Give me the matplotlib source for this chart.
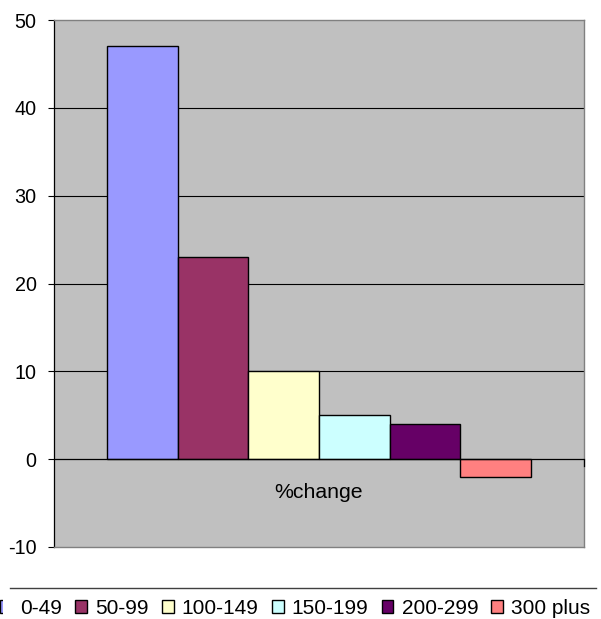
import matplotlib
matplotlib.use('Agg')
import matplotlib.pyplot as plt
import matplotlib.patches as mpatches
import matplotlib.transforms as mtransforms
from matplotlib.lines import Line2D
import numpy as np

# bar chart of %change by group
labels = ['0-49', '50-99', '100-149', '150-199', '200-299', '300 plus']
values = [47, 23, 10, 5, 4, -2]
colors = ['#9999FF', '#993366', '#FFFFCC', '#CCFFFF', '#660066', '#FF8080']
category = '%change'
yticks = [-10, 0, 10, 20, 30, 40, 50]

plt.rcParams['font.family'] = ['Liberation Sans', 'DejaVu Sans']

fig = plt.figure(figsize=(6.01, 6.19), dpi=100)
ax = fig.add_axes([54/601, 1-547/619, 530/601, 527/619])
ax.set_facecolor('#C0C0C0')

x = np.arange(len(values))
ax.bar(x, values, width=1.0, color=colors, edgecolor='black', linewidth=1.0, zorder=3)

ax.set_xlim(-1.25, len(values) + 0.25)
ax.set_ylim(-10, 50)

# gridlines
for y in yticks[2:-1]:
    ax.axhline(y, color='black', linewidth=0.8, zorder=1)
ax.axhline(0, color='black', linewidth=0.9, zorder=4)
trans = mtransforms.blended_transform_factory(ax.transAxes, ax.transData)
ax.plot([1, 1], [0, -0.8], color='black', linewidth=0.9, transform=trans, clip_on=False, zorder=4)

ax.set_xticks([])
ax.set_yticks(yticks)
ax.set_yticklabels([str(v) for v in yticks], fontsize=14.2)
ax.tick_params(axis='y', direction='out', length=4.5, width=0.8, pad=8)
for s in ['top', 'right', 'bottom']:
    ax.spines[s].set_color('#808080')
    ax.spines[s].set_linewidth(1.0)
ax.spines['left'].set_color('black')
ax.spines['left'].set_linewidth(0.9)

ax.text(np.mean(x), -3.75, category, ha='center', va='center', fontsize=15.3)

# legend separator
fig.add_artist(Line2D([10/601, 596/601], [1-588/619, 1-588/619], color='#404040', linewidth=1.0))

handles = [mpatches.Patch(facecolor=c, edgecolor='black', linewidth=1.0) for c in colors]
leg = fig.legend(handles, labels, loc='center left', bbox_to_anchor=(0/601, 1-608/619),
                 ncol=6, frameon=False, fontsize=15, handlelength=0.57, handleheight=0.57,
                 handletextpad=0.4, columnspacing=0.62, borderpad=0, borderaxespad=0)

# legend is clipped on the left in the original
fig.add_artist(mpatches.Rectangle((3/601, 1-618/619), 11/601, 20/619, transform=fig.transFigure,
                                  facecolor='white', edgecolor='none', zorder=10))

fig.savefig('out.png', dpi=100)
